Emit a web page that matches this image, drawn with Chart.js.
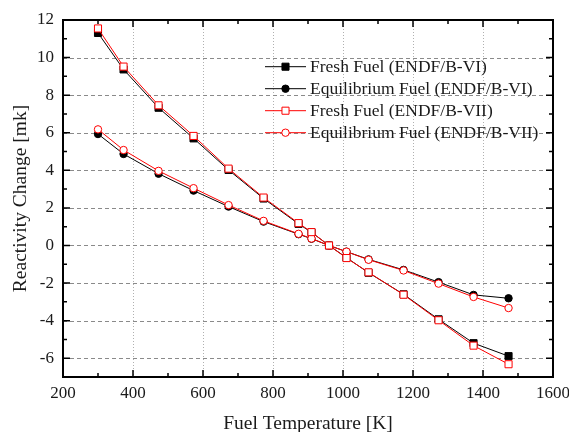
<!DOCTYPE html>
<html>
<head>
<meta charset="utf-8">
<script src="https://cdn.jsdelivr.net/npm/chart.js@4/dist/chart.umd.min.js"></script>
<style>
  html, body { margin: 0; padding: 0; background: #fff; }
  #wrap { width: 569px; height: 432px; }
</style>
</head>
<body>
<div id="wrap"><canvas id="c" width="569" height="432"></canvas></div>
<script>
// ---- data ----
const temperatures = [300, 373, 473, 573, 673, 773, 873, 910, 960, 1010, 1073, 1173, 1273, 1373, 1473];
const freshVI  = [11.31, 9.37, 7.33, 5.70, 4.02, 2.50, 1.15, 0.70, 0.00, -0.65, -1.45, -2.60, -3.93, -5.20, -5.89];
const equilVI  = [5.93, 4.87, 3.82, 2.92, 2.07, 1.27, 0.60, 0.36, 0.00, -0.33, -0.74, -1.30, -1.95, -2.63, -2.81];
const freshVII = [11.55, 9.52, 7.46, 5.83, 4.09, 2.55, 1.19, 0.71, 0.00, -0.67, -1.43, -2.62, -3.98, -5.33, -6.32];
const equilVII = [6.18, 5.08, 3.97, 3.05, 2.15, 1.31, 0.62, 0.37, 0.00, -0.33, -0.76, -1.33, -2.03, -2.74, -3.33];
const seriesNames = ['Fresh Fuel (ENDF/B-VI)', 'Equilibrium Fuel (ENDF/B-VI)', 'Fresh Fuel (ENDF/B-VII)', 'Equilibrium Fuel (ENDF/B-VII)'];
const xTickValues = [200, 400, 600, 800, 1000, 1200, 1400, 1600];
const yTickValues = [-6, -4, -2, 0, 2, 4, 6, 8, 10, 12];
const xTitle = 'Fuel Temperature [K]';
const yTitle = 'Reactivity Change [mk]';

const SERIF = "'Liberation Serif', 'Times New Roman', serif";
const toXY = arr => temperatures.map((t, i) => ({ x: t, y: arr[i] }));

function ds(label, arr, color, fill, style, r, order) {
  return {
    label, data: toXY(arr), borderColor: color, borderWidth: 1,
    pointStyle: style, pointRadius: r, pointHoverRadius: r,
    pointBackgroundColor: fill, pointBorderColor: color, pointBorderWidth: 1,
    tension: 0, fill: false, order
  };
}

const frame = {
  id: 'frame',
  beforeDatasetsDraw(chart) {
    const { ctx, chartArea: a, scales: { x, y } } = chart;
    ctx.save();
    ctx.lineWidth = 1;
    ctx.strokeStyle = '#b0b0b0';
    ctx.setLineDash([1, 2]);
    xTickValues.forEach(v => {
      const px = Math.round(x.getPixelForValue(v)) + 0.5;
      if (px <= a.left + 2 || px >= a.right - 2) return;
      ctx.beginPath(); ctx.moveTo(px, a.top); ctx.lineTo(px, a.bottom); ctx.stroke();
    });
    ctx.strokeStyle = '#8a8a8a';
    ctx.setLineDash([4, 3]);
    yTickValues.forEach(v => {
      const py = Math.round(y.getPixelForValue(v)) + 0.5;
      if (py <= a.top + 2 || py >= a.bottom - 2) return;
      ctx.beginPath(); ctx.moveTo(a.left, py); ctx.lineTo(a.right, py); ctx.stroke();
    });
    ctx.restore();
  },
  afterDatasetsDraw(chart) {
    const { ctx, chartArea: a, scales: { x, y } } = chart;
    ctx.save();
    ctx.setLineDash([]);
    ctx.strokeStyle = '#000';
    ctx.lineWidth = 1.5;
    for (let v = 200; v <= 1600; v += 100) {
      const px = x.getPixelForValue(v);
      const len = (v % 200 === 0) ? 7 : 4;
      ctx.beginPath();
      ctx.moveTo(px, a.bottom); ctx.lineTo(px, a.bottom - len);
      ctx.moveTo(px, a.top); ctx.lineTo(px, a.top + len);
      ctx.stroke();
    }
    for (let v = -7; v <= 12; v += 1) {
      const py = y.getPixelForValue(v);
      const len = (v % 2 === 0) ? 7 : 4;
      ctx.beginPath();
      ctx.moveTo(a.left, py); ctx.lineTo(a.left + len, py);
      ctx.moveTo(a.right, py); ctx.lineTo(a.right - len, py);
      ctx.stroke();
    }
    ctx.lineWidth = 2;
    ctx.strokeRect(a.left, a.top, a.right - a.left, a.bottom - a.top);
    ctx.restore();
  },
  afterDraw(chart) {
    const { ctx } = chart;
    ctx.save();
    const rows = [66.7, 88.7, 110.7, 132.7];
    chart.data.datasets.forEach((d, i) => {
      const yy = rows[i];
      ctx.strokeStyle = d.borderColor; ctx.lineWidth = 1; ctx.setLineDash([]);
      ctx.beginPath(); ctx.moveTo(265, yy); ctx.lineTo(306, yy); ctx.stroke();
      ctx.fillStyle = d.pointBackgroundColor; ctx.strokeStyle = d.borderColor;
      ctx.beginPath();
      if (d.pointStyle === 'rect') {
        const s = d.pointRadius * Math.SQRT1_2;
        ctx.rect(285.5 - s, yy - s, 2 * s, 2 * s);
      } else {
        ctx.arc(285.5, yy, d.pointRadius, 0, Math.PI * 2);
      }
      ctx.fill(); ctx.stroke();
      ctx.fillStyle = '#1a1a1a';
      ctx.font = "17.5px " + SERIF;
      ctx.textAlign = 'left'; ctx.textBaseline = 'middle';
      ctx.fillText(d.label, 310, yy + 1);
    });
    ctx.restore();
  }
};

new Chart(document.getElementById('c'), {
  type: 'line',
  data: {
    datasets: [
      ds(seriesNames[0], freshVI, '#000000', '#000000', 'rect', 5, 2),
      ds(seriesNames[1], equilVI, '#000000', '#000000', 'circle', 3.7, 2),
      ds(seriesNames[2], freshVII, '#ff0000', '#ffffff', 'rect', 5, 1),
      ds(seriesNames[3], equilVII, '#ff0000', '#ffffff', 'circle', 3.7, 1)
    ]
  },
  options: {
    responsive: false,
    animation: false,
    events: [],
    layout: { padding: { top: 20, right: 16, left: 0, bottom: 0 } },
    plugins: { legend: { display: false }, tooltip: { enabled: false } },
    scales: {
      x: {
        type: 'linear', min: 200, max: 1600,
        afterBuildTicks: s => { s.ticks = xTickValues.map(v => ({ value: v })); },
        afterFit: s => { s.height = 55; s.paddingLeft = 0; s.paddingRight = 0; },
        grid: { display: false, drawTicks: false }, border: { display: false },
        ticks: { color: '#1a1a1a', font: { family: SERIF, size: 17 }, padding: 6, maxRotation: 0, autoSkip: false,
                 callback: v => String(v) },
        title: { display: true, text: xTitle, color: '#1a1a1a', font: { family: SERIF, size: 19.5 }, padding: { top: 0, bottom: -4 } }
      },
      y: {
        type: 'linear', min: -7, max: 12,
        afterBuildTicks: s => { s.ticks = yTickValues.map(v => ({ value: v })); },
        afterFit: s => { s.width = 63; s.paddingTop = 0; s.paddingBottom = 0; },
        grid: { display: false, drawTicks: false }, border: { display: false },
        ticks: { color: '#1a1a1a', font: { family: SERIF, size: 17 }, padding: 9, autoSkip: false,
                 callback: v => String(v) },
        title: { display: true, text: yTitle, color: '#1a1a1a', font: { family: SERIF, size: 19.5 }, padding: { top: 9, bottom: 0 } }
      }
    }
  },
  plugins: [frame]
});
</script>
</body>
</html>
